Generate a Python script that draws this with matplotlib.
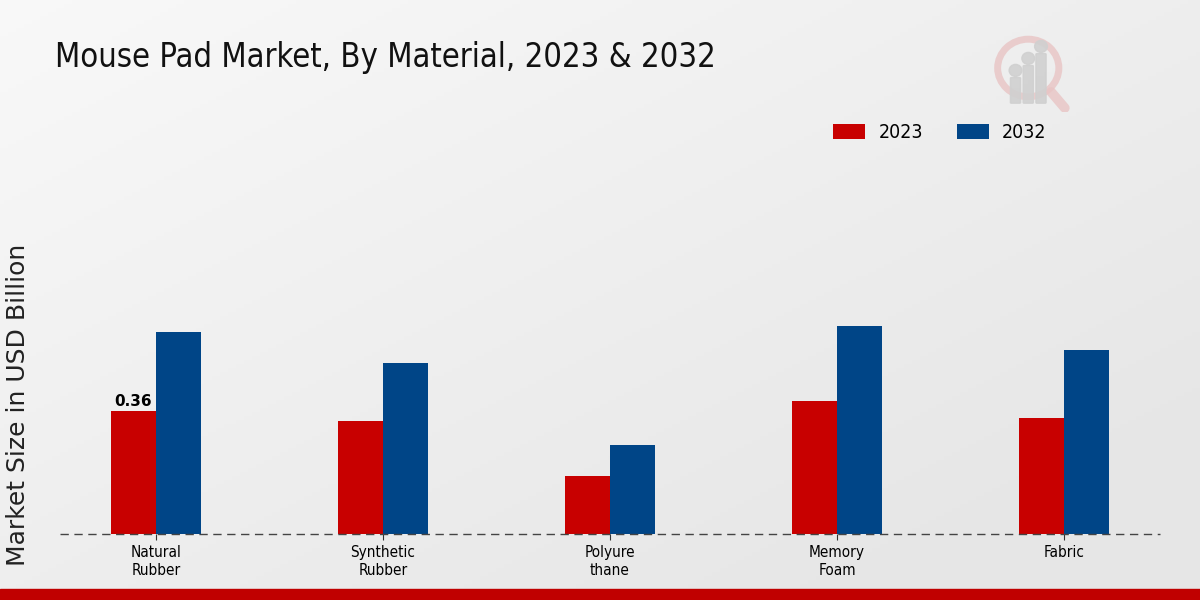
import numpy as np
import matplotlib.pyplot as plt
from matplotlib.patches import Circle, FancyBboxPatch, Rectangle

categories = ["Natural\nRubber", "Synthetic\nRubber", "Polyure\nthane", "Memory\nFoam", "Fabric"]
values_2023 = [0.36, 0.33, 0.17, 0.39, 0.34]
values_2032 = [0.59, 0.50, 0.26, 0.61, 0.54]
series_labels = ["2023", "2032"]

red = "#c80000"
blue = "#004587"
cond = dict(family="DejaVu Sans", stretch="condensed")

fig = plt.figure(figsize=(12, 6), dpi=100)

# background gradient, light top-left to grey bottom-right
bg = fig.add_axes([0, 0, 1, 1], zorder=-10)
gx, gy = np.meshgrid(np.linspace(0, 1, 300), np.linspace(0, 1, 150))
t = np.clip(0.6 * gx + 0.6 * gy, 0, 1)
shade = 0.975 - 0.07 * t
bg.imshow(np.dstack([shade, shade, shade]), extent=[0, 1, 0, 1], aspect="auto", origin="upper")
bg.set_xlim(0, 1)
bg.set_ylim(0, 1)
bg.axis("off")
# bottom red strip
bg.add_patch(Rectangle((0, 0), 1, 11 / 600, color="#c00000", transform=bg.transAxes))

ax = fig.add_axes([60 / 1200, 66 / 600, 1100 / 1200, 384 / 600])
ax.patch.set_alpha(0)

x = np.arange(len(categories))
w = 0.2
ax.bar(x - w / 2, values_2023, w, color=red, label=series_labels[0])
ax.bar(x + w / 2, values_2032, w, color=blue, label=series_labels[1])

ax.text(x[0] - w / 2, values_2023[0] + 0.005, f"{values_2023[0]:.2f}", ha="center", va="bottom",
        fontsize=11, fontweight="bold")

ax.axhline(0, color="#444444", linestyle=(0, (6, 4)), linewidth=1, zorder=5, clip_on=False)
ax.set_xlim(-0.423, len(categories) - 1 + 0.423)
ax.set_ylim(0, 1.124)
ax.set_xticks(x)
ax.set_xticklabels(categories, fontsize=11, **cond)
ax.tick_params(axis="x", length=4, color="#333333", pad=4)
ax.set_yticks([])
for s in ax.spines.values():
    s.set_visible(False)

fig.text(18 / 1200, 1 - 405 / 600, "Market Size in USD Billion", rotation=90, fontsize=18,
         ha="center", va="center", color="#222222")
fig.text(55 / 1200, 1 - 57 / 600, "Mouse Pad Market, By Material, 2023 & 2032", fontsize=23.5,
         ha="left", va="center", color="#111111", **cond)

ax.legend(loc="center", bbox_to_anchor=(940 / 1200, 1 - 133 / 600), bbox_transform=fig.transFigure,
          ncol=2, frameon=False, prop=dict(size=14, **cond), handlelength=1.65,
          handleheight=0.8, columnspacing=1.75, handletextpad=0.67)

# faint logo
lg = fig.add_axes([990 / 1200, 1 - 112 / 600, 85 / 1200, 80 / 600])
lg.set_xlim(0, 1)
lg.set_ylim(0, 1)
lg.axis("off")
lg.add_patch(Circle((0.45, 0.55), 0.36, fill=False, lw=5, color="#e8c4c4", alpha=0.8))
lg.plot([0.72, 0.88], [0.25, 0.05], color="#e8c4c4", lw=7, alpha=0.8, solid_capstyle="round")
for bx, bh in [(0.3, 0.3), (0.45, 0.45), (0.6, 0.6)]:
    lg.add_patch(FancyBboxPatch((bx - 0.05, 0.12), 0.1, bh, boxstyle="round,pad=0.01",
                                color="#d0d0d0", alpha=0.9))
    lg.add_patch(Circle((bx, 0.12 + bh + 0.1), 0.075, color="#d0d0d0", alpha=0.9))

fig.savefig("out.png", dpi=100)
